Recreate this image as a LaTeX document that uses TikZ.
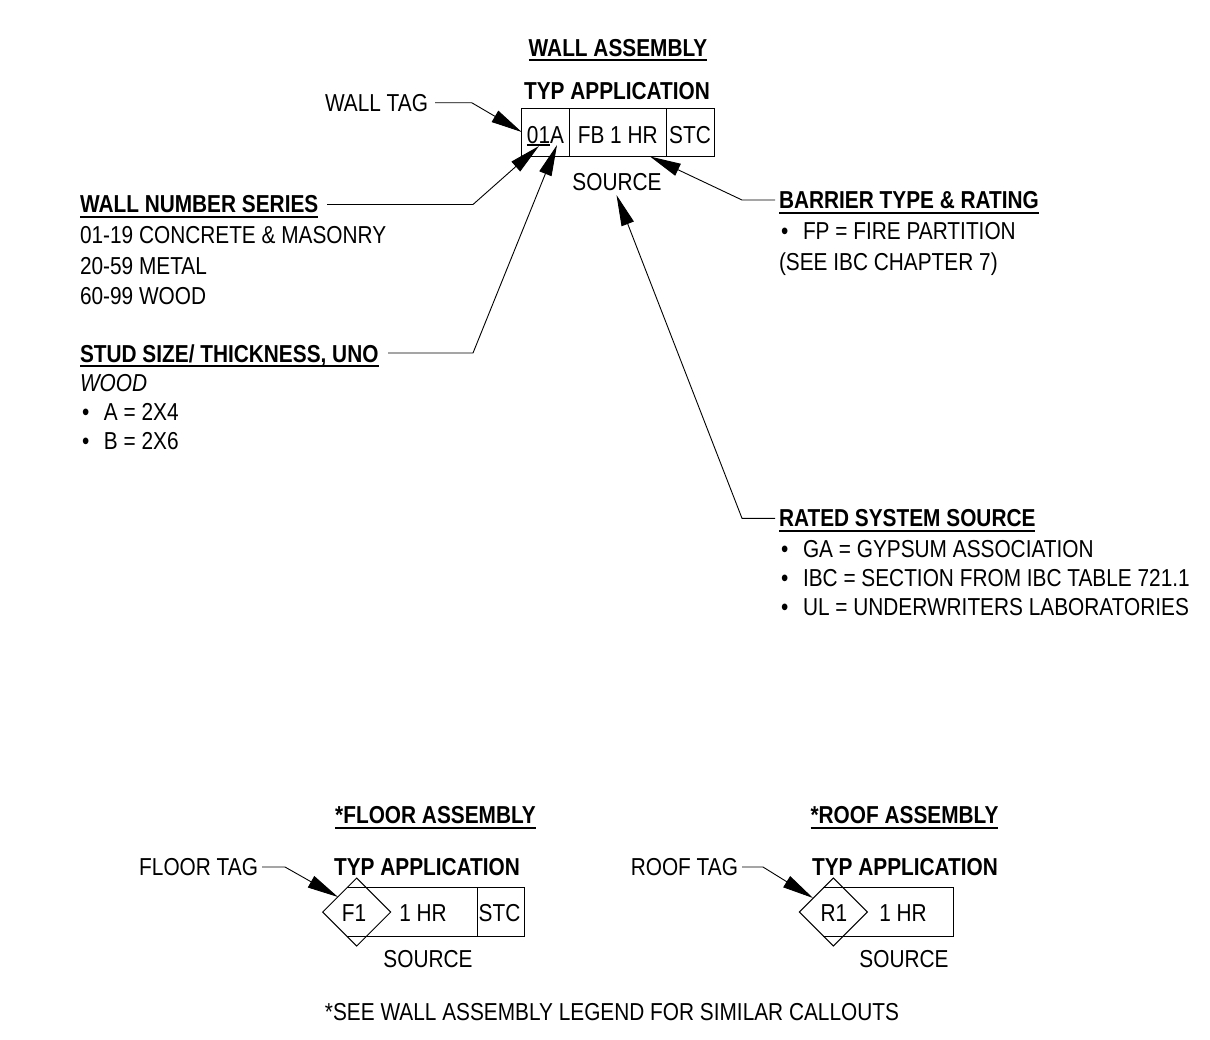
\documentclass[tikz,border=0pt]{standalone}
\usepackage{fontspec}
\setmainfont{Liberation Sans}[FakeStretch=0.85]
\usetikzlibrary{arrows.meta}
\newcommand{\hul}[1]{\setbox0\hbox{#1}\rlap{\rule[-5pt]{\wd0}{2pt}}\box0}
\newcommand{\tul}[1]{\setbox0\hbox{#1}\rlap{\rule[-2.6pt]{\wd0}{1.8pt}}\box0}
\newcommand{\bul}{\makebox[24pt][l]{\hspace{2pt}•}}
\begin{document}
\begin{tikzpicture}[x=1pt,y=-1pt,
  txt/.style={inner sep=0pt,outer sep=0pt,font=\fontsize{24.5}{28}\selectfont},
  lt/.style={txt,anchor=base west},
  ct/.style={txt,anchor=base},
  rt/.style={txt,anchor=base east},
  hd/.style={txt,anchor=base west,font=\fontsize{24.5}{28}\selectfont\bfseries},
  hc/.style={txt,anchor=base,font=\fontsize{24.5}{28}\selectfont\bfseries},
  boxline/.style={line width=1pt},
  lead/.style={line width=0.9pt,-{Triangle[length=31pt,width=13pt]}},
  dia/.style={line width=1pt}]
\useasboundingbox (0,0) rectangle (1210,1039);

% ---------------- WALL ASSEMBLY ----------------
\node[hc] (wa) at (618,56) {\hul{WALL ASSEMBLY}};
\node[hc] (wtyp) at (617,99.5) {TYP APPLICATION};
\draw[boxline] (521.7,108.7) rectangle (714,156.5);
\draw[boxline] (569.3,108.7) -- (569.3,156.5);
\draw[boxline] (666,108.7) -- (666,156.5);
\node[ct] (w01a) at (545.5,143.5) {\tul{01}A};
\node[ct] (wfb) at (617.7,143.5) {FB 1 HR};
\node[ct] (wstc) at (690,143.5) {STC};
\node[ct] (wsrc) at (617,190.5) {SOURCE};

\node[rt] (walltag) at (428,111) {WALL TAG};

\node[hd] (wns) at (80,212.5) {\hul{WALL NUMBER SERIES}};
\node[lt] (wns1) at (80,243.5) {01-19 CONCRETE \& MASONRY};
\node[lt] (wns2) at (80,274) {20-59 METAL};
\node[lt] (wns3) at (80,304.5) {60-99 WOOD};

\node[hd] (stud) at (80,362) {\hul{STUD SIZE/ THICKNESS, UNO}};
\node[lt] (stud1) at (80,391.5) {\itshape WOOD};
\node[lt] (stud2) at (80,420.5) {\bul A = 2X4};
\node[lt] (stud3) at (80,449.5) {\bul B = 2X6};

\node[hd] (bar) at (779,208.5) {\hul{BARRIER TYPE \& RATING}};
\node[lt] (bar1) at (779,239.5) {\bul FP = FIRE PARTITION};
\node[lt] (bar2) at (779,270.5) {(SEE IBC CHAPTER 7)};

\node[hd] (rss) at (779,526.8) {\hul{RATED SYSTEM SOURCE}};
\node[lt] (rss1) at (779,557) {\bul GA = GYPSUM ASSOCIATION};
\node[lt] (rss2) at (779,586) {\bul IBC = SECTION FROM IBC TABLE 721.1};
\node[lt] (rss3) at (779,615) {\bul UL = UNDERWRITERS LABORATORIES};

% leader coordinates
\coordinate (wtA) at (435,102.7);
\coordinate (wtB) at (471.7,102.7);
\coordinate (wtT) at (521.7,132);
\coordinate (wnA) at (327,204.5);
\coordinate (wnB) at (473,204.5);
\coordinate (wnT) at (539,146);
\coordinate (ssA) at (388,353);
\coordinate (ssB) at (473,353);
\coordinate (ssT) at (557,145);
\coordinate (btA) at (775,200);
\coordinate (btB) at (742,200);
\coordinate (btT) at (650,156.5);
\coordinate (rsA) at (775,518.3);
\coordinate (rsB) at (742,518.3);
\coordinate (rsT) at (616.5,195);

\draw[lead] (wtA) -- (wtB) -- (wtT);
\draw[lead] (wnA) -- (wnB) -- (wnT);
\draw[lead] (ssA) -- (ssB) -- (ssT);
\draw[lead] (btA) -- (btB) -- (btT);
\draw[lead] (rsA) -- (rsB) -- (rsT);

% ---------------- FLOOR ASSEMBLY ----------------
\node[hc] (fa) at (435.5,823.5) {\hul{*FLOOR ASSEMBLY}};
\node[hc] (ftyp) at (427,875.5) {TYP APPLICATION};
\node[rt] (ftag) at (258,875.5) {FLOOR TAG};
\draw[boxline] (347.4,887.3) -- (524,887.3) -- (524,936) -- (346.7,936);
\draw[boxline] (477,887.3) -- (477,936);
\draw[dia] (322.7,912) -- (356.7,878) -- (390.7,912) -- (356.7,946) -- cycle;
\node[ct] (ff1) at (354,921) {F1};
\node[ct] (fhr) at (423,921) {1 HR};
\node[ct] (fstc) at (499.5,921) {STC};
\node[ct] (fsrc) at (428,967.5) {SOURCE};
\coordinate (ftA) at (262,867);
\coordinate (ftB) at (285,867);
\coordinate (ftT) at (338,897);
\draw[lead] (ftA) -- (ftB) -- (ftT);

% ---------------- ROOF ASSEMBLY ----------------
\node[hc] (ra) at (904.5,823.5) {\hul{*ROOF ASSEMBLY}};
\node[hc] (rtyp) at (905,875.5) {TYP APPLICATION};
\node[rt] (rtag) at (738,875.5) {ROOF TAG};
\draw[boxline] (823.4,887.3) -- (953,887.3) -- (953,936) -- (823.3,936);
\draw[dia] (799.3,912) -- (833.3,878) -- (867.3,912) -- (833.3,946) -- cycle;
\node[ct] (rr1) at (834,921) {R1};
\node[ct] (rhr) at (903,921) {1 HR};
\node[ct] (rsrc) at (904,967.5) {SOURCE};
\coordinate (rtA) at (742,867);
\coordinate (rtB) at (763,867);
\coordinate (rtT) at (813,898);
\draw[lead] (rtA) -- (rtB) -- (rtT);

% footnote
\node[ct] (note) at (612,1020.5) {*SEE WALL ASSEMBLY LEGEND FOR SIMILAR CALLOUTS};
\end{tikzpicture}
\end{document}
